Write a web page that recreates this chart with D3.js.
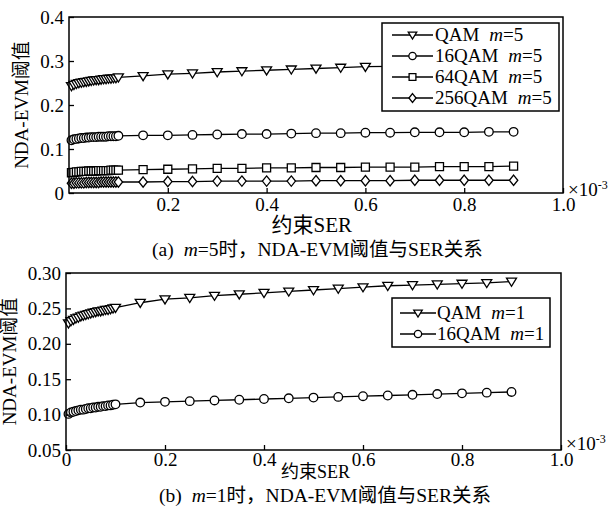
<!DOCTYPE html>
<html>
<head>
<meta charset="utf-8">
<script src="https://cdn.jsdelivr.net/npm/d3@7"></script>
<style>
  body { margin: 0; background: #fff; }
  svg text { fill: #000; }
</style>
</head>
<body>
<svg id="fig" width="612" height="518"></svg>
<script>
// Constrained SER (×10^-3): dense sampling up to 0.1, then every 0.05
const ser = [0.005,0.01,0.015,0.02,0.025,0.03,0.035,0.04,0.045,0.05,0.055,0.06,0.065,0.07,0.075,0.08,0.085,0.09,0.095,
             0.1,0.15,0.2,0.25,0.3,0.35,0.4,0.45,0.5,0.55,0.6,0.65,0.7,0.75,0.8,0.85,0.9];

// (a) m = 5
const qamM5    = [0.243,0.246,0.248,0.250,0.251,0.252,0.253,0.254,0.255,0.256,0.257,0.257,0.258,0.259,0.259,0.260,0.260,0.261,0.261,
                  0.263,0.266,0.270,0.272,0.275,0.277,0.279,0.281,0.283,0.285,0.287,0.288,0.289,0.290,0.291,0.292,0.293];
const qam16M5  = [0.120,0.122,0.123,0.124,0.125,0.125,0.126,0.126,0.127,0.127,0.127,0.128,0.128,0.128,0.128,0.129,0.129,0.129,0.129,
                  0.130,0.131,0.131,0.132,0.133,0.134,0.134,0.135,0.136,0.136,0.137,0.137,0.138,0.138,0.138,0.139,0.139];
const qam64M5  = [0.046,0.047,0.048,0.048,0.049,0.049,0.049,0.050,0.050,0.050,0.050,0.051,0.051,0.051,0.051,0.051,0.052,0.052,0.052,
                  0.052,0.053,0.054,0.055,0.056,0.056,0.057,0.057,0.058,0.058,0.059,0.059,0.059,0.060,0.060,0.060,0.061];
const qam256M5 = [0.022,0.022,0.023,0.023,0.023,0.023,0.024,0.024,0.024,0.024,0.024,0.024,0.025,0.025,0.025,0.025,0.025,0.025,0.025,
                  0.025,0.025,0.026,0.026,0.027,0.027,0.027,0.027,0.028,0.028,0.028,0.028,0.029,0.029,0.029,0.029,0.029];

// (b) m = 1
const qamM1    = [0.229,0.232,0.234,0.236,0.237,0.239,0.240,0.241,0.242,0.243,0.244,0.245,0.246,0.246,0.247,0.248,0.248,0.249,0.250,
                  0.251,0.258,0.263,0.265,0.268,0.270,0.272,0.274,0.276,0.278,0.280,0.282,0.283,0.284,0.285,0.286,0.288];
const qam16M1  = [0.101,0.103,0.104,0.105,0.106,0.107,0.107,0.108,0.109,0.109,0.110,0.110,0.111,0.111,0.112,0.112,0.113,0.113,0.114,
                  0.1145,0.117,0.118,0.119,0.120,0.121,0.122,0.123,0.124,0.125,0.126,0.127,0.128,0.129,0.130,0.131,0.132];

// Tick values
const xTicksA = [0.2,0.4,0.6,0.8,1.0];
const yTicksA = [0,0.1,0.2,0.3,0.4];
const xTicksB = [0,0.2,0.4,0.6,0.8,1.0];
const yTicksB = [0.05,0.10,0.15,0.20,0.25,0.30];

const modNames = ["QAM","16QAM","64QAM","256QAM"];
const shapes = ["tri","circle","square","diamond"];

const SERIF = "'Liberation Serif', 'Times New Roman', serif";
const CJK = "'Liberation Serif', 'Noto Sans CJK SC', serif";

const svg = d3.select("#fig");

function markerPath(shape, s) {
  const p = d3.path();
  if (shape === "tri") {
    const w = 5*s, h = 4.5*s;
    p.moveTo(-w, -h*0.75); p.lineTo(w, -h*0.75); p.lineTo(0, h*1.05); p.closePath();
  } else if (shape === "circle") {
    const r = 4.3*s; p.moveTo(r,0); p.arc(0,0,r,0,2*Math.PI); p.closePath();
  } else if (shape === "square") {
    const a = 4*s; p.rect(-a,-a,2*a,2*a);
  } else {
    const w = 4.2*s, h = 5.2*s;
    p.moveTo(0,-h); p.lineTo(w,0); p.lineTo(0,h); p.lineTo(-w,0); p.closePath();
  }
  return p.toString();
}

function panel(cfg) {
  const g = svg.append("g");
  const x = d3.scaleLinear().domain([0,1]).range([cfg.left, cfg.right]);
  const y = d3.scaleLinear().domain(cfg.yDomain).range([cfg.bottom, cfg.top]);

  // series
  cfg.series.forEach(s => {
    const pts = ser.map((v,i) => [v, s.values[i]]);
    g.append("path")
      .attr("d", d3.line().x(d => x(d[0])).y(d => y(d[1]))(pts))
      .attr("fill","none").attr("stroke","#000").attr("stroke-width",1.3);
    g.append("g").selectAll("path").data(pts).join("path")
      .attr("transform", d => `translate(${x(d[0])},${y(d[1])})`)
      .attr("d", markerPath(s.shape, 1))
      .attr("fill","#fff").attr("stroke","#000").attr("stroke-width",1.3);
  });

  // frame
  g.append("rect")
    .attr("x", cfg.left).attr("y", cfg.top)
    .attr("width", cfg.right - cfg.left).attr("height", cfg.bottom - cfg.top)
    .attr("fill","none").attr("stroke","#000").attr("stroke-width",1.5);

  // axes with inward ticks
  const xa = g.append("g").attr("transform",`translate(0,${cfg.bottom})`)
    .call(d3.axisBottom(x).tickValues(cfg.xTicks).tickFormat(cfg.xFmt).tickSizeInner(-5).tickSizeOuter(0).tickPadding(cfg.xPad));
  const ya = g.append("g").attr("transform",`translate(${cfg.left},0)`)
    .call(d3.axisLeft(y).tickValues(cfg.yTicks).tickFormat(cfg.yFmt).tickSizeInner(-5).tickSizeOuter(0).tickPadding(5));
  [xa, ya].forEach(a => {
    a.attr("font-family", null).attr("font-size", null);
    a.select(".domain").remove();
    a.selectAll("line").attr("stroke","#000").attr("stroke-width",1.3);
    a.selectAll("text").style("font-family",SERIF).style("font-size","19px").attr("fill","#000");
  });

  // ×10^-3 multiplier
  const mt = g.append("text").attr("x", cfg.right + 5).attr("y", cfg.bottom + cfg.expDy)
    .style("font-family",SERIF).style("font-size","19px");
  mt.append("tspan").text("×10");
  mt.append("tspan").attr("dy",-7).style("font-size","12px").text("-3");

  // axis titles
  g.append("text").attr("x", cfg.xTitleX).attr("y", cfg.xTitleY)
    .attr("text-anchor","end").style("font-family",CJK).style("font-size",cfg.xTitleSize).text("约束SER");
  g.append("text")
    .attr("transform",`translate(${cfg.left - cfg.yTitleOff},${(cfg.top+cfg.bottom)/2}) rotate(-90)`)
    .attr("text-anchor","middle").style("font-family",CJK).style("font-size","19px").text("NDA-EVM阈值");

  // caption
  const cap = g.append("text").attr("x", cfg.capX).attr("y", cfg.capY)
    .style("font-family",CJK).style("font-size","19.5px");
  cap.append("tspan").text(cfg.capTag);
  cap.append("tspan").attr("dx", 10).style("font-style","italic").text("m");
  cap.append("tspan").text(cfg.capM + "时，NDA-EVM阈值与SER关系");

  // legend
  const L = cfg.legend;
  g.append("rect").attr("x",L.x).attr("y",L.y).attr("width",L.w).attr("height",L.h)
    .attr("fill","#fff").attr("stroke","#000").attr("stroke-width",1.5);
  cfg.series.forEach((s,i) => {
    const ry = L.y + L.first + i*L.step;
    g.append("line").attr("x1",L.x+L.l0).attr("x2",L.x+L.l1).attr("y1",ry).attr("y2",ry)
      .attr("stroke","#000").attr("stroke-width",1.3);
    g.append("path").attr("transform",`translate(${L.x+(L.l0+L.l1)/2},${ry})`)
      .attr("d", markerPath(s.shape, 0.85)).attr("fill","#fff").attr("stroke","#000").attr("stroke-width",1.3);
    const t = g.append("text").attr("x",L.x+L.tx).attr("y",ry+6)
      .style("font-family",SERIF).style("font-size","19px");
    t.append("tspan").text(s.name);
    t.append("tspan").attr("dx", 10).style("font-style","italic").text("m");
    t.append("tspan").text(s.m);
  });
}

panel({
  left: 69, right: 563, top: 17, bottom: 193,
  yDomain: [0, 0.4],
  xTicks: xTicksA, yTicks: yTicksA, xPad: 5, expDy: 3,
  xFmt: d3.format(".1f"), yFmt: d => d === 0 ? "0" : d3.format(".1f")(d),
  series: [qamM5, qam16M5, qam64M5, qam256M5].map((v,i) => ({values: v, shape: shapes[i], name: modNames[i], m: "=5"})),
  legend: {x: 382, y: 23, w: 177, h: 88, first: 12, step: 21, l0: 10, l1: 51, tx: 53},
  xTitleX: 352, xTitleY: 232, xTitleSize: "21px", yTitleOff: 41,
  capX: 152, capY: 256, capTag: "(a)", capM: "=5"
});

panel({
  left: 66, right: 561, top: 273, bottom: 450,
  yDomain: [0.05, 0.30],
  xTicks: xTicksB, yTicks: yTicksB, xPad: 2, expDy: 0,
  xFmt: d => d === 0 ? "0" : d3.format(".1f")(d), yFmt: d3.format(".2f"),
  series: [qamM1, qam16M1].map((v,i) => ({values: v, shape: shapes[i], name: modNames[i], m: "=1"})),
  legend: {x: 392, y: 298, w: 158, h: 49, first: 15, step: 21, l0: 8, l1: 44, tx: 45},
  xTitleX: 350, xTitleY: 478, xTitleSize: "18px", yTitleOff: 50,
  capX: 159, capY: 502, capTag: "(b)", capM: "=1"
});
</script>
</body>
</html>
